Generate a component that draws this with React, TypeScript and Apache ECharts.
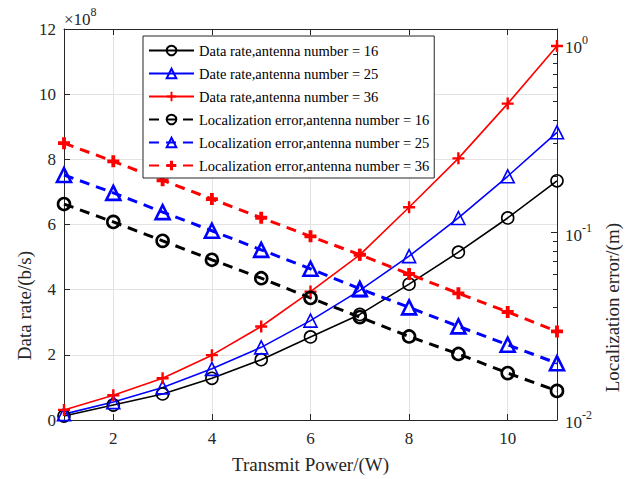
import React, { useEffect, useRef } from "react";
import * as echarts from "echarts";

// Transmit power (W)
const powers = [1, 2, 3, 4, 5, 6, 7, 8, 9, 10, 11];
// Data rate in units of 1e8 b/s
const rate16 = [0.12, 0.46, 0.8, 1.28, 1.85, 2.55, 3.24, 4.17, 5.15, 6.2, 7.34];
const rate25 = [0.18, 0.55, 1.0, 1.57, 2.23, 3.05, 3.98, 5.03, 6.2, 7.48, 8.83];
const rate36 = [0.31, 0.76, 1.28, 1.99, 2.87, 3.94, 5.07, 6.53, 8.03, 9.71, 11.48];
// Localization error (m)
const err16 = [0.142, 0.114, 0.0904, 0.0716, 0.0571, 0.0448, 0.0354, 0.0279, 0.0225, 0.0178, 0.0143];
const err25 = [0.203, 0.163, 0.1286, 0.1023, 0.0809, 0.0641, 0.0501, 0.0399, 0.0316, 0.0252, 0.0201];
const err36 = [0.3, 0.24, 0.19, 0.151, 0.12, 0.0955, 0.0762, 0.0601, 0.0474, 0.0377, 0.0297];

const seriesNames = [
  "Data rate,antenna number = 16",
  "Date rate,antenna number = 25",
  "Data rate,antenna number = 36",
  "Localization error,antenna number = 16",
  "Localization error,antenna number = 25",
  "Localization error,antenna number = 36",
];

const xTicks = [2, 4, 6, 8, 10];
const rightMajor = [0.01, 0.1, 1];
const rightMinor = [0.02, 0.03, 0.04, 0.05, 0.06, 0.07, 0.08, 0.09, 0.2, 0.3, 0.4, 0.5, 0.6, 0.7, 0.8, 0.9];

const FONT = "'Liberation Serif', 'Times New Roman', serif";
const AX = "#262626";
const PLUS = "path://M4,0H6V4H10V6H6V10H4V6H0V4H4Z";
const PLUS_BOLD = "path://M3.4,0H6.6V3.4H10V6.6H6.6V10H3.4V6.6H0V3.4H3.4Z";

const pairs = (ys: number[]) => powers.map((x, i) => [x, ys[i]]);

export default function App() {
  const ref = useRef<HTMLDivElement>(null);
  useEffect(() => {
    const chart = echarts.init(ref.current!, null, { renderer: "svg" });
    const solid = (name: string, data: number[], color: string, symbol: string, size: number) => ({
      name,
      type: "line",
      xAxisIndex: 0,
      yAxisIndex: 0,
      data: pairs(data),
      symbol,
      symbolSize: size,
      showAllSymbol: true,
      lineStyle: { color, width: 1.6, type: "solid" },
      itemStyle: symbol.startsWith("path")
        ? { color, borderColor: color, borderWidth: 0 }
        : { color: "transparent", borderColor: color, borderWidth: 1.6 },
    });
    const dashed = (name: string, data: number[], color: string, symbol: string, size: number) => ({
      name,
      type: "line",
      xAxisIndex: 0,
      yAxisIndex: 1,
      data: pairs(data),
      symbol,
      symbolSize: size,
      showAllSymbol: true,
      lineStyle: { color, width: 3, type: [10, 7] },
      itemStyle: symbol.startsWith("path")
        ? { color, borderColor: color, borderWidth: 0 }
        : { color: "transparent", borderColor: color, borderWidth: 2.6 },
    });
    const tickAxisBase = {
      axisLine: { show: true, lineStyle: { color: AX, width: 1 } },
      axisTick: { show: true, inside: true, length: 6, lineStyle: { color: AX } },
    };
    chart.setOption({
      animation: false,
      textStyle: { fontFamily: FONT },
      grid: { left: 64, right: 78, top: 29, bottom: 57, containLabel: false },
      legend: {
        orient: "vertical",
        left: 143,
        top: 36,
        itemWidth: 45,
        itemHeight: 12,
        itemGap: 8,
        padding: [7, 5, 5, 5],
        backgroundColor: "#fff",
        borderColor: AX,
        borderWidth: 1,
        borderRadius: 0,
        textStyle: { fontFamily: FONT, fontSize: 14.5, color: "#000" },
        data: seriesNames,
      },
      xAxis: [
        {
          type: "value",
          position: "bottom",
          min: 1,
          max: 11,
          ...tickAxisBase,
          axisTick: { ...tickAxisBase.axisTick, customValues: xTicks },
          axisLabel: { customValues: xTicks, fontFamily: FONT, fontSize: 17, color: AX, margin: 10 },
          splitLine: { show: true, lineStyle: { color: "#e3e3e3", width: 1 } },
          name: "Transmit Power/(W)",
          nameLocation: "middle",
          nameGap: 35,
          nameTextStyle: { fontFamily: FONT, fontSize: 19, color: AX },
        },
        {
          type: "value",
          position: "top",
          min: 1,
          max: 11,
          ...tickAxisBase,
          axisTick: { ...tickAxisBase.axisTick, customValues: xTicks },
          axisLabel: { show: false },
          splitLine: { show: false },
        },
      ],
      yAxis: [
        {
          type: "value",
          position: "left",
          min: 0,
          max: 12,
          interval: 2,
          ...tickAxisBase,
          axisLabel: { fontFamily: FONT, fontSize: 17, color: AX, margin: 8 },
          splitLine: { show: true, lineStyle: { color: "#e3e3e3", width: 1 } },
        },
        {
          type: "log",
          logBase: 10,
          position: "right",
          min: 0.01,
          max: 1.22,
          ...tickAxisBase,
          axisTick: { ...tickAxisBase.axisTick, customValues: rightMajor },
          axisLabel: {
            customValues: rightMajor,
            margin: 8,
            formatter: (v: number) => {
              const e = Math.round(Math.log10(v));
              return `{b|10}{s|${e}}`;
            },
            rich: {
              b: { fontFamily: FONT, fontSize: 17, color: AX, lineHeight: 22, verticalAlign: "bottom" },
              s: { fontFamily: FONT, fontSize: 12, color: AX, lineHeight: 12, verticalAlign: "top" },
            },
          },
          splitLine: { show: false },
        },
        {
          type: "log",
          logBase: 10,
          position: "right",
          min: 0.01,
          max: 1.22,
          axisLine: { show: false },
          axisTick: { show: true, inside: true, length: 4, lineStyle: { color: AX }, customValues: rightMinor },
          axisLabel: { show: false },
          splitLine: { show: false },
        },
      ],
      graphic: [
        {
          type: "text",
          left: 64,
          top: 6,
          style: {
            text: "{a|×10}{b|8}",
            rich: {
              a: { fontFamily: FONT, fontSize: 17, fill: AX, lineHeight: 22, verticalAlign: "bottom" },
              b: { fontFamily: FONT, fontSize: 12, fill: AX, lineHeight: 12, verticalAlign: "top" },
            },
          },
        },
        {
          type: "text",
          left: 15,
          top: 251,
          rotation: Math.PI / 2,
          style: {
            text: "Data rate/(b/s)",
            fontFamily: FONT,
            fontSize: 19,
            fill: AX,
            align: "center",
            verticalAlign: "middle",
          },
        },
        {
          type: "text",
          left: 603,
          top: 223,
          rotation: Math.PI / 2,
          style: {
            text: "Localization error/(m)",
            fontFamily: FONT,
            fontSize: 19,
            fill: AX,
            align: "center",
            verticalAlign: "middle",
          },
        },
      ],
      series: [
        solid(seriesNames[0], rate16, "#000000", "circle", 12),
        solid(seriesNames[1], rate25, "#0000ff", "triangle", 13),
        solid(seriesNames[2], rate36, "#ff0000", PLUS, 12),
        dashed(seriesNames[3], err16, "#000000", "circle", 12),
        dashed(seriesNames[4], err25, "#0000ff", "triangle", 14),
        dashed(seriesNames[5], err36, "#ff0000", PLUS_BOLD, 12),
      ],
    });
    return () => chart.dispose();
  }, []);
  return <div ref={ref} style={{ position: "absolute", left: 0, top: 0, width: 635, height: 479 }} />;
}
